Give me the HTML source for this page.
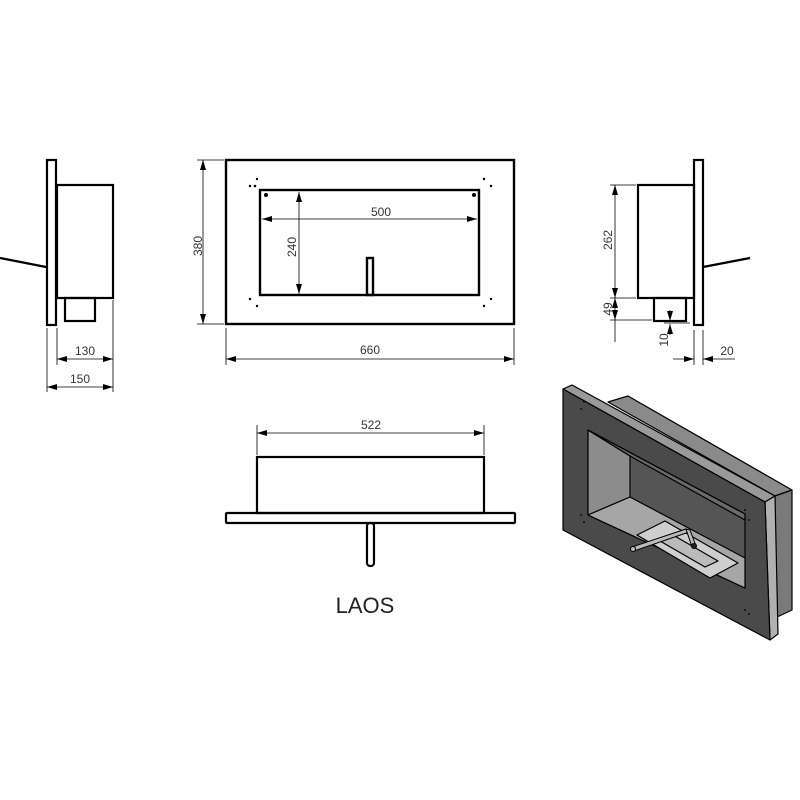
<!DOCTYPE html>
<html><head><meta charset="utf-8"><style>html,body{margin:0;padding:0;background:#fff}svg{display:block}</style></head>
<body>
<svg width="800" height="800" viewBox="0 0 800 800" xmlns="http://www.w3.org/2000/svg" font-family="Liberation Sans, sans-serif">
<defs>
<marker id="a" viewBox="0 0 10 6" refX="10" refY="3" markerWidth="10" markerHeight="6" orient="auto-start-reverse" markerUnits="userSpaceOnUse"><path d="M0,0L10,3L0,6z" fill="#000"/></marker>
</defs>
<g stroke="#000" fill="none">
<!-- Left side view -->
<g stroke-width="2.2">
<rect x="47" y="160" width="9" height="165"/>
<rect x="57" y="185" width="56" height="113"/>
<rect x="65" y="298" width="30" height="23"/>
<line x1="0" y1="258" x2="46" y2="267"/>
</g>
<g stroke-width="0.8">
<line x1="47" y1="328" x2="47" y2="392"/><line x1="57" y1="328" x2="57" y2="365"/><line x1="113" y1="300" x2="113" y2="392"/>
<line x1="57" y1="359" x2="113" y2="359" marker-start="url(#a)" marker-end="url(#a)"/>
<line x1="47" y1="387" x2="113" y2="387" marker-start="url(#a)" marker-end="url(#a)"/>
</g>
<!-- Front view -->
<g stroke-width="2.4">
<rect x="226" y="160" width="288" height="164"/>
<rect x="260" y="190" width="219" height="105"/>
<rect x="367" y="258" width="6" height="37"/>
</g>
<g stroke-width="0.8">
<line x1="197" y1="160" x2="224" y2="160"/><line x1="197" y1="324" x2="224" y2="324"/>
<line x1="203" y1="160" x2="203" y2="324" marker-start="url(#a)" marker-end="url(#a)"/>
<line x1="226" y1="328" x2="226" y2="365"/><line x1="514" y1="328" x2="514" y2="365"/>
<line x1="226" y1="359" x2="514" y2="359" marker-start="url(#a)" marker-end="url(#a)"/>
<line x1="262" y1="219" x2="477" y2="219" marker-start="url(#a)" marker-end="url(#a)"/>
<line x1="299" y1="192" x2="299" y2="294" marker-start="url(#a)" marker-end="url(#a)"/>
</g>
<g fill="#000" stroke="none">
<circle cx="255" cy="186" r="1.3"/><circle cx="250" cy="186" r="0"/><circle cx="257" cy="179" r="1.2"/><circle cx="250" cy="186" r="1.2"/>
<circle cx="484" cy="179" r="1.2"/><circle cx="491" cy="186" r="1.2"/>
<circle cx="250" cy="299" r="1.2"/><circle cx="257" cy="306" r="1.2"/>
<circle cx="491" cy="299" r="1.2"/><circle cx="484" cy="306" r="1.2"/>
<circle cx="266" cy="195" r="2"/><circle cx="474" cy="195" r="2"/>
</g>
<!-- Right side view -->
<g stroke-width="2.2">
<rect x="694" y="160" width="9" height="165"/>
<rect x="638" y="185" width="56" height="113"/>
<rect x="654" y="298" width="32" height="23"/>
<line x1="703" y1="267" x2="750" y2="258"/>
</g>
<g stroke-width="0.8">
<line x1="610" y1="185" x2="636" y2="185"/><line x1="610" y1="298" x2="636" y2="298"/><line x1="610" y1="320" x2="652" y2="320"/>
<line x1="615" y1="185" x2="615" y2="298" marker-start="url(#a)" marker-end="url(#a)"/>
<line x1="615" y1="298" x2="615" y2="320" marker-start="url(#a)" marker-end="url(#a)"/>
<line x1="615" y1="320" x2="615" y2="342"/>
<line x1="664" y1="323" x2="690" y2="323"/>
<line x1="670" y1="310" x2="670" y2="321" marker-end="url(#a)"/>
<line x1="670" y1="335" x2="670" y2="324" marker-end="url(#a)"/>
<line x1="694" y1="330" x2="694" y2="365"/><line x1="703" y1="330" x2="703" y2="365"/>
<line x1="673" y1="359" x2="694" y2="359" marker-end="url(#a)"/>
<line x1="735" y1="359" x2="703" y2="359" marker-end="url(#a)"/>
</g>
<!-- Bottom view -->
<g stroke-width="2.2">
<rect x="257" y="457" width="227" height="56"/>
<rect x="226" y="513" width="289" height="10" rx="1"/>
<rect x="367" y="523" width="7" height="43" rx="3"/>
</g>
<g stroke-width="0.8">
<line x1="257" y1="425" x2="257" y2="455"/><line x1="484" y1="425" x2="484" y2="455"/>
<line x1="257" y1="433" x2="484" y2="433" marker-start="url(#a)" marker-end="url(#a)"/>
</g>
</g>
<g font-size="12" fill="#333">
<text x="85" y="355" text-anchor="middle">130</text>
<text x="80" y="383" text-anchor="middle">150</text>
<text x="370" y="354" text-anchor="middle">660</text>
<text x="381" y="216" text-anchor="middle">500</text>
<text transform="translate(202,246) rotate(-90)" text-anchor="middle">380</text>
<text transform="translate(296,247) rotate(-90)" text-anchor="middle">240</text>
<text transform="translate(612,240) rotate(-90)" text-anchor="middle">262</text>
<text transform="translate(612,309) rotate(-90)" text-anchor="middle">49</text>
<text transform="translate(668,340) rotate(-90)" text-anchor="middle">10</text>
<text x="727" y="355" text-anchor="middle">20</text>
<text x="371" y="429" text-anchor="middle">522</text>
</g>
<text x="365" y="613" font-size="22" text-anchor="middle" fill="#222">LAOS</text>
<!-- 3D view -->
<g stroke="#000" stroke-width="1.2" stroke-linejoin="round">
<polygon points="608,402 628,396 792,490 775,496" fill="#8a8a8a"/>
<polygon points="775,496 792,490 792,610 775,618" fill="#7a7a7a"/>
<polygon points="563,389 572,385 775,496 765,502" fill="#9a9a9a"/>
<polygon points="765,502 775,496 778,634 770,640" fill="#b0b0b0"/>
<polygon points="563,389 765,502 770,640 563,530" fill="#4a4a4a"/>
<polygon points="588,430 745,514 745,588 588,515" fill="#555"/>
<polygon points="588,430 630,456 630,497 588,515" fill="#8c8c8c"/>
<polygon points="630,456 745,520 745,514 588,430" fill="#6a6a6a"/>
<polygon points="588,515 630,497 745,558 745,588" fill="#a6a6a6"/>
<polygon points="637,535 665,521 738,563 710,578" fill="#cfcfcf"/>
<polygon points="660,541 673,535 718,561 705,567" fill="#bbb"/>
</g>
<g stroke="#000" stroke-width="1" fill="#bbb">
<polygon points="632,547 686,529 689,532 634,551"/>
<polygon points="686,529 690,530 696,546 692,547"/>
<circle cx="633" cy="549" r="2.5"/>
<circle cx="694" cy="546" r="2.5" fill="#222"/>
</g>
<g fill="#111">
<circle cx="581" cy="409" r="1"/><circle cx="584" cy="402" r="1"/>
<circle cx="581" cy="515" r="1"/><circle cx="584" cy="522" r="1"/>
<circle cx="745" cy="510" r="1"/><circle cx="749" cy="520" r="1"/>
<circle cx="745" cy="610" r="1"/><circle cx="749" cy="614" r="1"/>
</g>
</svg>
</body></html>
